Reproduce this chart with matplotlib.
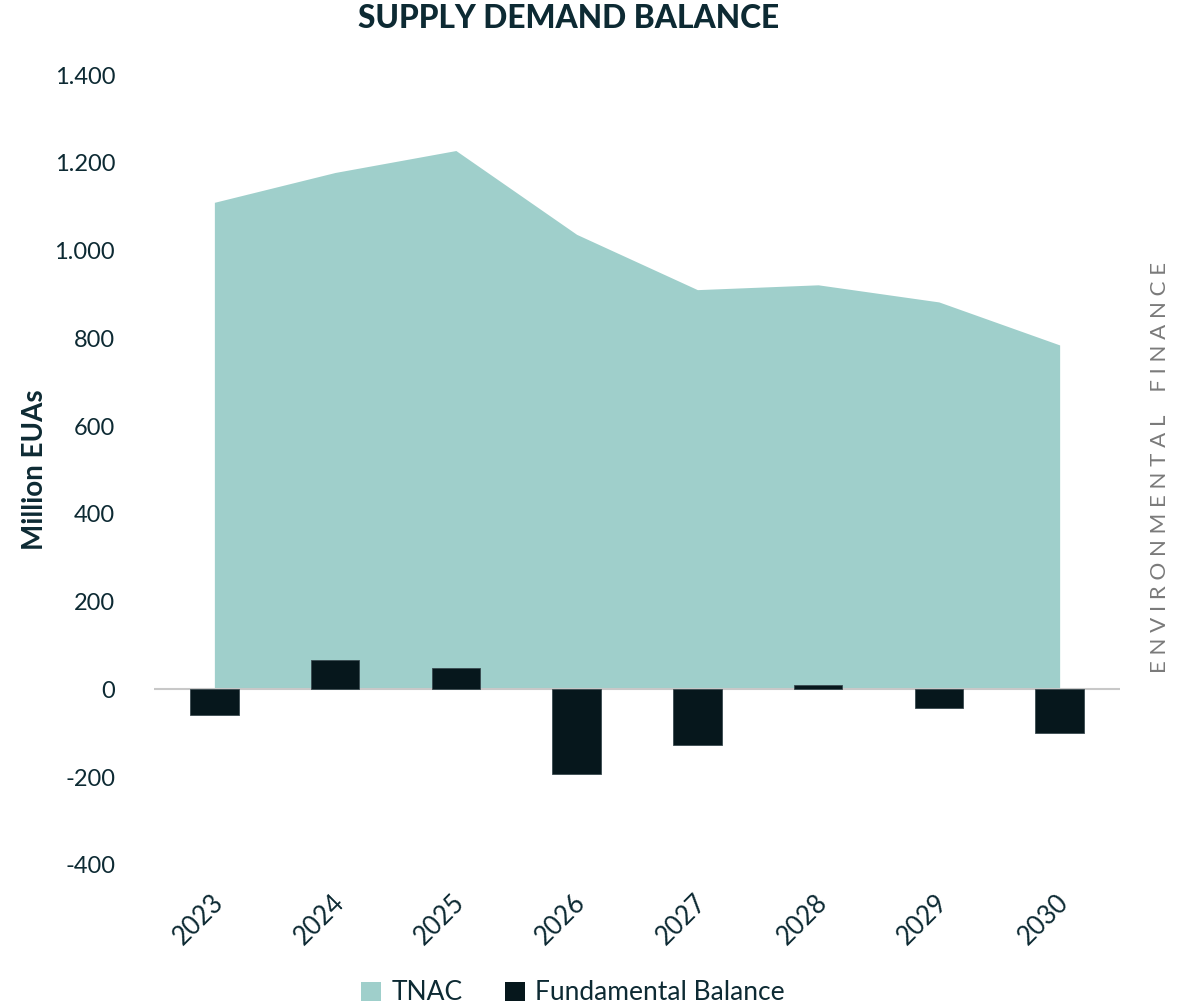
import matplotlib
matplotlib.use("Agg")
import matplotlib.pyplot as plt
from matplotlib.patches import Patch
import matplotlib.transforms as mtransforms
import numpy as np

years = ["2023", "2024", "2025", "2026", "2027", "2028", "2029", "2030"]
tnac = [1110, 1178, 1228, 1037, 911, 922, 883, 785]
fundamental_balance = [-59, 67, 48, -192, -126, 11, -42, -100]
yticks = [-400, -200, 0, 200, 400, 600, 800, 1000, 1200, 1400]
ytick_labels = ["-400", "-200", "0", "200", "400", "600", "800", "1.000", "1.200", "1.400"]

plt.rcParams['font.family'] = ['Lato', 'DejaVu Sans']
dark = "#0d2a33"
area_col = "#9fcfcb"
bar_col = "#06171c"

fig = plt.figure(figsize=(11.91, 10.06), dpi=100)
ax = fig.add_axes([0.1293, 0.1402, 0.8111, 0.7852])

x = np.arange(len(years))
ax.fill_between(x, 0, tnac, color=area_col, linewidth=0, zorder=1)
ax.bar(x, fundamental_balance, width=0.4, color=bar_col, edgecolor="#3a4a50", linewidth=0.6, zorder=3)
ax.axhline(0, color="#c8c8c8", linewidth=1.5, zorder=2)

ax.set_xlim(-0.5, len(years) - 0.5)
ax.set_ylim(-400, 1400)
ax.set_yticks(yticks)
ax.set_yticklabels(ytick_labels)
ax.set_xticks(x)
ax.set_xticklabels(years, rotation=45, ha="right", va="center", rotation_mode="anchor")
ax.tick_params(axis="y", length=0, labelsize=17, labelcolor=dark, pad=28)
ax.tick_params(axis="x", length=0, labelsize=18.5, labelcolor=dark, pad=24)
offset = mtransforms.ScaledTranslation(5 / 100, 0, fig.dpi_scale_trans)
for lab in ax.get_xticklabels():
    lab.set_transform(lab.get_transform() + offset)
for s in ax.spines.values():
    s.set_visible(False)

ax.set_ylabel("Million EUAs", fontsize=20, fontweight="bold", color=dark, labelpad=5)
fig.text(0.477, 0.982, "SUPPLY DEMAND BALANCE", ha="center", va="center",
         fontsize=22.8, fontweight="black", color=dark)
fig.text(0.974, 0.535, "E N V I R O N M E N T A L    F I N A N C E", rotation=90,
         ha="center", va="center", fontsize=16, color="#7a7a7a", fontweight="normal")

handles = [Patch(facecolor=area_col, label="TNAC"),
           Patch(facecolor=bar_col, label="Fundamental Balance")]
fig.legend(handles=handles, loc="center", bbox_to_anchor=(0.481, 0.013), ncol=2,
           frameon=False, fontsize=19, handlelength=0.75, handleheight=0.75,
           handletextpad=0.4, columnspacing=1.6, labelcolor=dark)

fig.savefig("out.png", dpi=100)
